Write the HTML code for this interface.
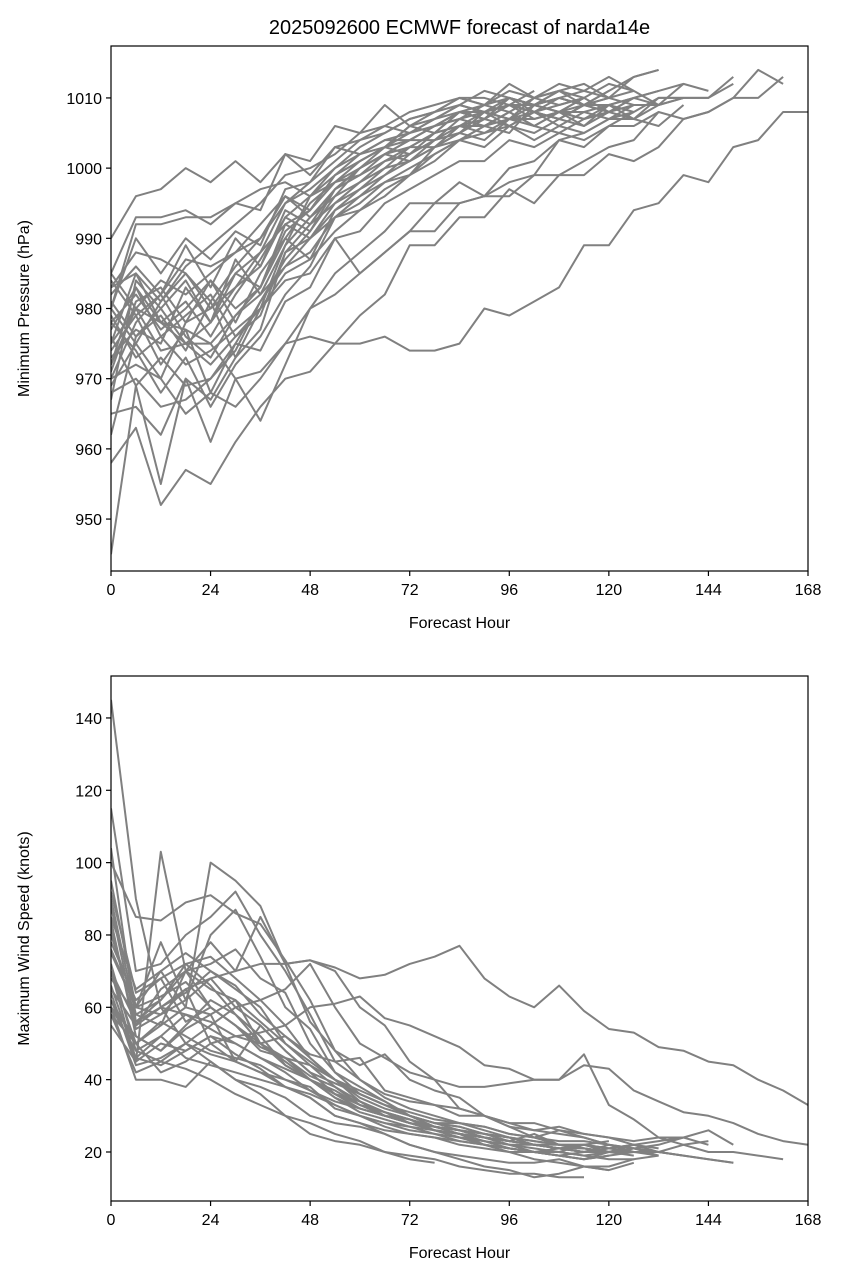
<!DOCTYPE html>
<html><head><meta charset="utf-8"><style>
body{margin:0;background:#fff;}
svg text{font-family:"Liberation Sans",sans-serif;fill:#000;}
</style></head><body>
<svg id="chart" width="843" height="1279" xmlns="http://www.w3.org/2000/svg">
<defs>
<clipPath id="c1"><rect x="111" y="46" width="697" height="525"/></clipPath>
<clipPath id="c2"><rect x="111" y="676" width="697" height="525"/></clipPath>
</defs>
<rect width="843" height="1279" fill="#fff"/>
<text x="459.5" y="34" font-size="20" text-anchor="middle">2025092600 ECMWF forecast of narda14e</text>
<g id="p1"></g>
<g id="p2"></g>
</svg>
<script>
const xTicks=[0,24,48,72,96,120,144,168];
const pTicks=[950,960,970,980,990,1000,1010];
const wTicks=[20,40,60,80,100,120,140];
const pressureSeries=[
[985,980,978,977,975,970,971,975,976,975,975,976,974,974,975,980,979,981,983,989,989,994,995,999,998,1003,1004,1008,1008],
[980,975,970,965,968,966,970,975,980,982,985,988,991,991,995,996,996,999,999,1001,1003,1004,1008,1007,1008,1010,1014,1012],
[958,963,952,957,955,961,966,970,971,975,979,982,989,989,993,993,997,995,999,999,1002,1001,1003,1007,1008,1010,1010,1013],
[945,969,955,970,967,973,980,984,985,990,985,988,991,995,995,996,998,999,1004,1003,1006,1008,1010,1010],
[990,996,997,1000,998,1001,998,1002,1001,1006,1005,1009,1006,1008,1010,1009,1012,1010,1011,1009,1011,1013,1014],
[965,966,962,970,961,970,964,972,980,985,988,991,995,995,998,996,1000,1001,1004,1005,1007,1007,1009,1012,1011],
[975,985,978,975,972,976,979,988,992,995,998,1001,1003,1005,1006,1007,1009,1008,1010,1009,1008,1010,1011,1012],
[970,978,982,976,973,979,983,991,994,999,1001,1003,1005,1006,1008,1007,1010,1009,1011,1012,1010,1013,1014],
[983,988,987,985,980,985,988,995,997,1000,1002,1003,1006,1005,1008,1008,1009,1007,1008,1007,1009,1008],
[978,974,968,973,966,972,976,982,986,993,995,998,999,1003,1004,1006,1007,1008,1006,1008,1009,1007,1010,1010,1010,1012],
[972,983,978,981,976,982,987,993,991,997,999,1002,1001,1004,1005,1008,1007,1010,1011,1010,1012,1011],
[968,970,966,967,970,974,981,987,991,996,998,1000,1003,1003,1006,1006,1008,1006,1005,1007,1008,1009,1009,1010],
[980,990,985,990,987,991,989,997,998,1003,1004,1006,1005,1007,1009,1008,1009,1008,1007,1009,1010,1009],
[975,980,984,982,985,988,990,996,993,996,1000,1002,1004,1004,1007,1006,1008,1006,1008,1006,1009,1010],
[970,972,970,978,984,980,983,992,990,995,997,1000,1001,1003,1005,1007,1009,1009,1008,1007,1008],
[985,993,993,994,992,995,997,998,996,1000,1003,1005,1007,1008,1010,1009,1011,1010,1012,1011,1013,1011,1009,1010,1010,1013],
[962,976,979,974,981,973,977,988,990,993,996,998,1000,1002,1004,1006,1005,1009,1008,1010,1008,1007,1006,1009],
[978,982,977,980,984,978,985,990,995,998,999,1001,1002,1004,1006,1005,1007,1007,1008,1009,1009,1010,1011],
[973,977,975,983,978,987,982,986,988,993,994,996,999,1001,1004,1003,1006,1004,1006,1005,1007,1008],
[982,986,982,989,983,990,986,994,992,997,1000,1002,1003,1005,1008,1007,1010,1009,1010,1011,1010,1011],
[976,969,973,969,970,975,974,981,983,990,991,995,997,999,1001,1001,1004,1003,1005,1004,1006,1006,1008],
[967,984,980,984,978,985,983,990,987,994,996,999,1001,1003,1005,1004,1007,1006,1008,1008,1007,1009],
[980,992,992,993,993,995,994,1002,999,1003,1002,1004,1004,1006,1008,1007,1010,1009,1010,1009,1011],
[972,980,974,975,975,979,982,989,996,998,1000,1002,1004,1006,1007,1008,1007,1009,1008,1010],
[984,979,982,987,986,988,992,996,994,999,1001,1003,1002,1005,1006,1008,1006,1008,1007,1009,1008,1010,1009],
[977,983,976,979,982,976,980,989,993,997,1000,1003,1004,1006,1007,1009,1008,1010,1009,1010],
[974,979,972,977,968,975,981,986,990,994,997,999,1002,1004,1005,1007,1006,1008,1007,1009,1010],
[981,976,980,975,978,983,986,993,996,999,1002,1004,1005,1007,1008,1009,1010,1008,1009,1010],
[969,975,981,985,981,986,990,995,998,1001,1004,1005,1007,1008,1009,1011,1010,1009,1011],
[983,985,981,986,989,992,995,999,1000,1002,1005,1006,1008,1009,1010,1010,1009,1011],
[971,981,983,978,980,983,988,992,994,998,1001,1003,1006,1007,1009,1008,1010,1009,1010,1009],
[979,973,976,972,974,977,980,985,987,991,994,997,999,1002,1004,1005,1006,1005,1007,1006,1008]
];
const windSeries=[
[65,55,60,65,68,70,72,72,73,71,68,69,72,74,77,68,63,60,66,59,54,53,49,48,45,44,40,37,33],
[60,48,45,50,55,60,62,65,72,60,50,46,42,40,38,38,39,40,40,47,33,29,24,22,20,20,19,18],
[62,50,42,45,50,52,53,55,60,61,63,57,55,52,49,44,43,40,40,44,43,37,34,31,30,28,25,23,22],
[145,90,60,50,45,40,38,35,30,28,27,25,22,20,19,18,17,17,18,16,15],
[70,45,103,70,60,55,50,45,40,35,32,30,28,26,25,22,20,18,17,16,16,18],
[80,60,70,60,100,95,88,72,73,70,60,55,45,40,32,30,27,24,22,22,20,21,22,24,26,22],
[100,85,84,89,91,86,83,73,62,48,44,47,40,37,35,30,27,26,25,24,22,21,20,22,23],
[115,70,72,80,85,92,80,70,58,45,40,36,34,33,30,30,28,28,26,25,24,23,24,24,22],
[90,58,55,70,78,70,85,72,56,48,40,35,32,30,28,27,25,24,26,24,22,20,20,19],
[75,60,78,62,80,87,74,60,54,42,38,34,30,28,26,24,22,22,21,20,20,19],
[60,40,40,38,45,40,36,30,28,25,23,20,18,17],
[58,42,45,43,40,36,33,30,25,23,22,20,19,18,16,15,14,14,13,13],
[70,50,55,60,58,45,42,38,35,30,28,25,22,20,18,16,15,13,14,16,15,17],
[85,65,70,75,70,65,60,50,45,40,37,34,30,27,25,24,22,20,19,18,19,20],
[65,55,65,70,72,76,68,64,50,42,36,33,30,28,27,25,24,22,22,21,20,20,19],
[95,60,58,65,50,45,55,48,42,36,34,30,28,27,26,24,23,25,22,21,20,22],
[60,52,48,55,62,58,52,44,40,36,32,30,29,26,24,23,21,20,20,22,21,22,23,24],
[78,62,68,56,60,55,48,46,40,37,33,30,28,27,25,24,23,22,21,20,20,21,19],
[55,45,50,48,52,47,43,38,35,30,28,26,25,24,23,22,21,20,20,19,18,18,19],
[68,58,62,70,65,62,50,52,47,45,46,37,35,33,32,30,28,26,27,25,24,22,21],
[72,48,52,46,44,42,40,38,36,33,30,28,27,26,25,24,23,22,21,20,21,22,20,19,18,17],
[88,55,60,58,56,52,50,46,44,40,35,32,30,28,28,26,24,23,22,21,20,20],
[64,44,46,50,47,45,42,40,38,32,30,27,25,24,22,21,20,20,19,18,20,21,20,19,18,17],
[76,60,63,67,60,55,49,46,41,38,33,31,29,27,26,25,24,23,22,22,21,20],
[82,54,58,62,68,60,55,48,42,39,36,33,31,29,28,27,25,24,23,23,22],
[104,56,62,72,66,58,50,44,40,35,31,29,27,25,24,22,21,20,19,20,21],
[66,46,52,58,54,50,46,42,37,33,30,28,26,25,23,22,21,20,21,20,22,21],
[92,64,68,72,74,68,62,55,46,40,34,31,29,27,26,25,23,22,21,21,20],
[58,50,56,52,48,46,44,40,37,34,32,30,28,26,24,23,21,20,19,18,19],
[84,52,48,54,58,62,56,50,44,38,34,31,28,26,25,23,22,21,20,19,20,21],
[70,56,60,64,70,66,58,52,46,40,36,33,30,28,27,25,24,22,21,20],
[62,46,44,48,52,50,46,43,40,36,33,31,29,27,26,24,23,22,21,22,23]
];
const NS='http://www.w3.org/2000/svg';
function mk(tag,attrs,parent,txt){const e=document.createElementNS(NS,tag);for(const k in attrs)e.setAttribute(k,attrs[k]);if(txt!==undefined)e.textContent=txt;parent.appendChild(e);return e;}
function panel(g,top,bottom,ymin,ymax,yTicks,series,ylabel,prefix,clip){
  const L=111,R=808;
  const X=h=>L+(h/168)*(R-L);
  const Y=v=>bottom-(v-ymin)/(ymax-ymin)*(bottom-top);
  const lg=mk('g',{'clip-path':'url(#'+clip+')'},g);
  series.forEach((s,i)=>{
    const d=s.map((v,j)=>(j?'L':'M')+X(j*6).toFixed(1)+','+Y(v).toFixed(1)).join('');
    const p=mk('path',{d:d,fill:'none',stroke:'#808080','stroke-width':2,'stroke-linejoin':'round'},lg);
    
    
  });
  const fr=mk('rect',{x:L,y:top,width:R-L,height:bottom-top,fill:'none',stroke:'#000','stroke-width':1.2},g);
  
  
  xTicks.forEach(t=>{
    mk('line',{x1:X(t),x2:X(t),y1:bottom,y2:bottom+5,stroke:'#000','stroke-width':1.2},g);
    const tx=mk('text',{x:X(t),y:bottom+24,'font-size':16,'text-anchor':'middle'},g,String(t));
    
    
  });
  yTicks.forEach(t=>{
    mk('line',{x1:L-5,x2:L,y1:Y(t),y2:Y(t),stroke:'#000','stroke-width':1.2},g);
    const tx=mk('text',{x:L-9,y:Y(t)+6,'font-size':16,'text-anchor':'end'},g,String(t));
    
    
  });
  const xl=mk('text',{x:(L+R)/2,y:bottom+57,'font-size':16,'text-anchor':'middle'},g,'Forecast Hour');
  
  
  const cy=(top+bottom)/2;
  const yl=mk('text',{x:29,y:cy,'font-size':16,'text-anchor':'middle',transform:'rotate(-90 29 '+cy+')'},g,ylabel);
  
  
}
panel(document.getElementById('p1'),46,571,942.6,1017.4,pTicks,pressureSeries,'Minimum Pressure (hPa)','pressure','c1');
panel(document.getElementById('p2'),676,1201,6.45,151.6,wTicks,windSeries,'Maximum Wind Speed (knots)','wind','c2');
</script>
</body></html>
